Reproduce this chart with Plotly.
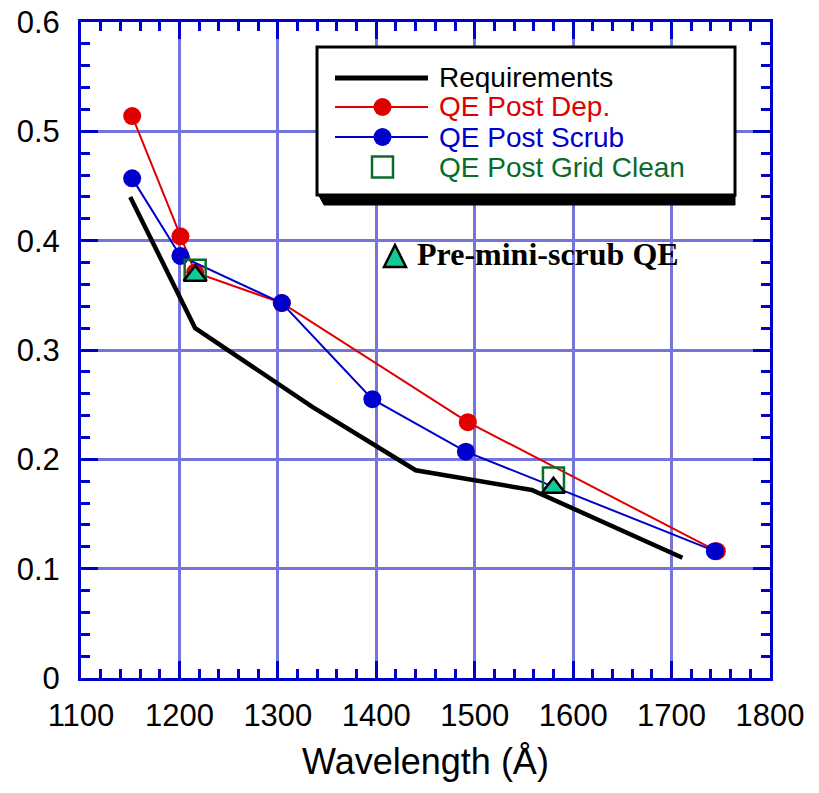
import plotly.graph_objects as go

# Quantum efficiency vs wavelength
req_x = [1150, 1216, 1335, 1440, 1558, 1711]
req_y = [0.440, 0.320, 0.248, 0.190, 0.172, 0.110]

dep_x = [1152, 1201, 1216, 1304, 1493, 1746]
dep_y = [0.514, 0.404, 0.371, 0.343, 0.234, 0.116]

scrub_x = [1152, 1201, 1304, 1396, 1491, 1744]
scrub_y = [0.457, 0.386, 0.343, 0.255, 0.207, 0.116]

grid_x = [1216, 1580]
grid_y = [0.373, 0.183]

pre_x = [1216, 1580]
pre_y = [0.368, 0.174]

x_ticks = [1100, 1200, 1300, 1400, 1500, 1600, 1700, 1800]
y_ticks = [0, 0.1, 0.2, 0.3, 0.4, 0.5, 0.6]
y_tick_text = ["0", "0.1", "0.2", "0.3", "0.4", "0.5", "0.6"]

RED = "#e00000"
BLUE = "#0000cc"
GREEN = "#0a6b2a"
TEAL = "#12c896"
AXIS_BLUE = "#0000cc"
GRID_BLUE = "#7474dc"
SANS = "Liberation Sans, Arial, sans-serif"
SERIF = "Liberation Serif, Times New Roman, serif"

W, H = 819, 793
ML, MR, MT, MB = 81, 49, 22, 115
PW, PH = W - ML - MR, H - MT - MB


def px(x):
    return (x - ML) / PW


def py(y):
    return (H - MB - y) / PH


fig = go.Figure()

fig.add_trace(go.Scatter(x=req_x, y=req_y, mode="lines",
                         line=dict(color="black", width=4.5), showlegend=False))
fig.add_trace(go.Scatter(x=dep_x, y=dep_y, mode="lines+markers",
                         line=dict(color=RED, width=2),
                         marker=dict(color=RED, size=18, symbol="circle"),
                         showlegend=False))
fig.add_trace(go.Scatter(x=scrub_x, y=scrub_y, mode="lines+markers",
                         line=dict(color=BLUE, width=2),
                         marker=dict(color=BLUE, size=18, symbol="circle"),
                         showlegend=False))
fig.add_trace(go.Scatter(x=grid_x, y=grid_y, mode="markers",
                         marker=dict(symbol="square-open", size=21,
                                     color=GREEN, line=dict(color=GREEN, width=2.5)),
                         showlegend=False))
fig.add_trace(go.Scatter(x=pre_x, y=pre_y, mode="markers",
                         marker=dict(symbol="triangle-up", size=20, color=TEAL,
                                     line=dict(color="black", width=2.5)),
                         showlegend=False))

shapes = []
annotations = []

# legend panel with drop shadow
bx0, bx1, by0, by1 = 317, 735, 47, 195
shapes.append(dict(type="path", xref="paper", yref="paper", layer="above",
                   path=(f"M{px(bx0)},{py(by1 - 3)} L{px(bx1)},{py(by1 - 3)} "
                         f"L{px(bx1)},{py(by1 + 10)} L{px(bx0 + 7)},{py(by1 + 10)} Z"),
                   fillcolor="black", line=dict(color="black", width=1)))
shapes.append(dict(type="rect", xref="paper", yref="paper", layer="above",
                   x0=px(bx0), x1=px(bx1), y0=py(by1), y1=py(by0),
                   fillcolor="white", line=dict(color="black", width=3)))

lx0, lx1, lxc = 335, 428, 382.5
rows = [78, 107, 137, 167]
entries = [
    ("Requirements", "black"),
    ("QE Post Dep.", RED),
    ("QE Post Scrub", BLUE),
    ("QE Post Grid Clean", GREEN),
]
shapes.append(dict(type="line", xref="paper", yref="paper", layer="above",
                   x0=px(lx0), x1=px(lx1), y0=py(rows[0]), y1=py(rows[0]),
                   line=dict(color="black", width=5)))
for r, c in ((rows[1], RED), (rows[2], BLUE)):
    shapes.append(dict(type="line", xref="paper", yref="paper", layer="above",
                       x0=px(lx0), x1=px(lx1), y0=py(r), y1=py(r),
                       line=dict(color=c, width=2)))
    shapes.append(dict(type="circle", xref="paper", yref="paper", layer="above",
                       x0=px(lxc - 9), x1=px(lxc + 9), y0=py(r + 9), y1=py(r - 9),
                       fillcolor=c, line=dict(color=c, width=0)))
shapes.append(dict(type="rect", xref="paper", yref="paper", layer="above",
                   x0=px(lxc - 10.5), x1=px(lxc + 10.5),
                   y0=py(rows[3] + 10.5), y1=py(rows[3] - 10.5),
                   fillcolor="white", line=dict(color=GREEN, width=2.5)))

for (label, color), r in zip(entries, rows):
    annotations.append(dict(x=px(437), y=py(r), xref="paper", yref="paper",
                            text=label, showarrow=False, xanchor="left",
                            yanchor="middle",
                            font=dict(family=SANS, size=28, color=color)))

# pre-mini-scrub label
tx, ty = 395, 257
shapes.append(dict(type="path", xref="paper", yref="paper", layer="above",
                   path=(f"M{px(tx - 11)},{py(ty + 10)} L{px(tx + 11)},{py(ty + 10)} "
                         f"L{px(tx)},{py(ty - 12)} Z"),
                   fillcolor=TEAL, line=dict(color="black", width=2.5)))
annotations.append(dict(x=px(415), y=py(254), xref="paper", yref="paper",
                        text="<b>Pre-mini-scrub QE</b>", showarrow=False,
                        xanchor="left", yanchor="middle",
                        font=dict(family=SERIF, size=32, color="black")))

axis_common = dict(
    showline=True, linecolor=AXIS_BLUE, linewidth=3, mirror="ticks",
    ticks="inside", ticklen=17, tickwidth=3, tickcolor=AXIS_BLUE,
    showgrid=True, gridcolor=GRID_BLUE, gridwidth=3,
    zeroline=False, automargin=False,
    tickfont=dict(family=SANS, size=31, color="black"),
)

fig.update_xaxes(
    range=[1100, 1800], tickmode="array", tickvals=x_ticks,
    minor=dict(dtick=20, tick0=1100, ticks="inside", ticklen=9, tickwidth=3,
               tickcolor=AXIS_BLUE, showgrid=False),
    title=dict(text="Wavelength (Å)", font=dict(family=SANS, size=36, color="black"),
               standoff=17),
    ticklabelstandoff=8,
    **axis_common,
)
fig.update_yaxes(
    range=[0, 0.6], tickmode="array", tickvals=y_ticks, ticktext=y_tick_text,
    minor=dict(dtick=0.02, tick0=0, ticks="inside", ticklen=9, tickwidth=3,
               tickcolor=AXIS_BLUE, showgrid=False),
    ticklabelstandoff=12,
    **axis_common,
)

fig.update_layout(
    width=W, height=H,
    margin=dict(l=ML, r=MR, t=MT, b=MB),
    paper_bgcolor="white", plot_bgcolor="white",
    shapes=shapes, annotations=annotations,
    showlegend=False,
)

fig.write_html("out.html")
